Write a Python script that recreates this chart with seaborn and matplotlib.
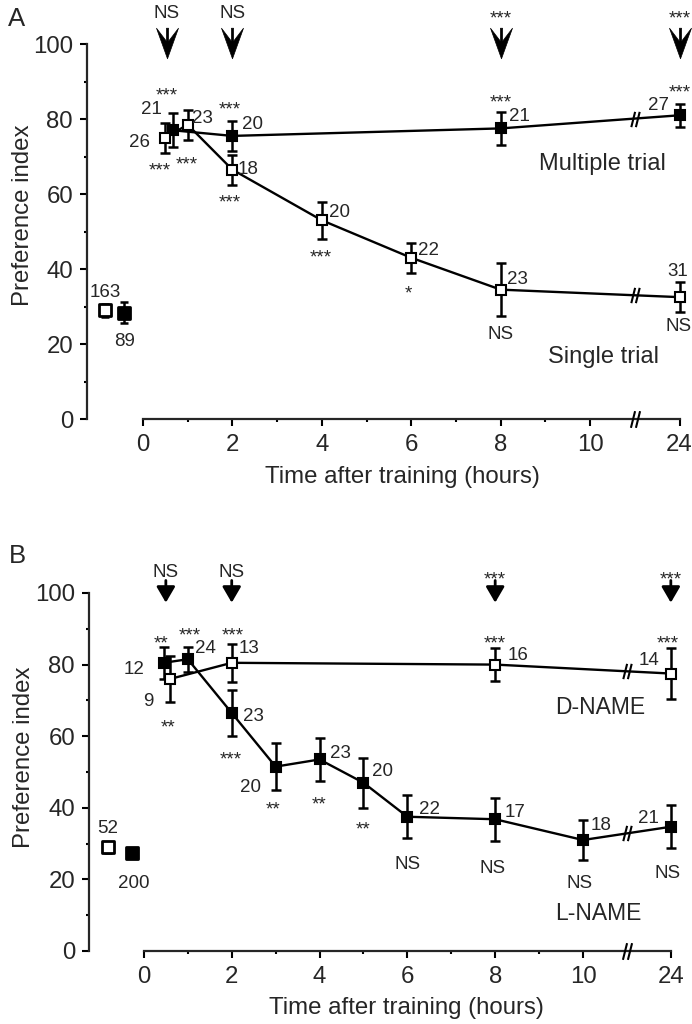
import numpy as np
import pandas as pd
import matplotlib
matplotlib.use("Agg")
import matplotlib.pyplot as plt
from matplotlib.path import Path
import seaborn as sns

# ------------------------------------------------------------------ data
# x positions on the plotted time axis (position 12 is labelled "24 h")
tick_pos = [0, 2, 4, 6, 8, 10, 12]
tick_labels = ["0", "2", "4", "6", "8", "10", "24"]
minor_pos = [1, 3, 5, 7, 9]
break_pos = 11

# Panel A
a_single_x = [0.5, 1, 2, 4, 6, 8, 12]
a_single_y = [75, 78.5, 66.5, 53, 43, 34.5, 32.5]
a_single_err = [4, 4, 4, 5, 4, 7, 4]
a_multi_x = [0.67, 2, 8, 12]
a_multi_y = [77, 75.5, 77.5, 81]
a_multi_err = [4.5, 4, 4.5, 3]
a_base_open = (-0.85, 29, 1.8)
a_base_fill = (-0.42, 28.3, 2.8)
a_arrow_x = [0.53, 2, 8, 12]
a_arrow_txt = ["NS", "NS", "***", "***"]

# Panel B
b_d_x = [0.6, 2, 8, 12]
b_d_y = [76, 80.5, 80, 77.5]
b_d_err = [6.5, 5.3, 4.5, 7]
b_l_x = [0.45, 1, 2, 3, 4, 5, 6, 8, 10, 12]
b_l_y = [80.5, 81.5, 66.5, 51.5, 53.5, 47, 37.5, 36.8, 31, 34.7]
b_l_err = [4.5, 3.5, 6.5, 6.5, 6, 7, 6, 6, 5.7, 6]
b_base_open = (-0.82, 29, 1.5)
b_base_fill = (-0.27, 27.3, 1.2)
b_arrow_x = [0.5, 2, 8, 12]
b_arrow_txt = ["NS", "NS", "***", "***"]

# annotation texts (text, x, y)
a_notes = [("***", 0.53, 87.7), ("21", 0.2, 83), ("26", -0.07, 74), ("***", 0.38, 67.7),
           ("***", 0.98, 69.5), ("23", 1.34, 80.5), ("***", 1.95, 84), ("20", 2.44, 79),
           ("18", 2.35, 67), ("***", 1.95, 59.3), ("20", 4.4, 55.5), ("***", 3.98, 44.5),
           ("22", 6.38, 45.3), ("*", 5.93, 35), ("23", 8.37, 37.6), ("NS", 8.0, 23),
           ("31", 11.95, 39.7), ("NS", 11.97, 25), ("***", 7.99, 86), ("21", 8.43, 81),
           ("***", 12.0, 88.5), ("27", 11.52, 84), ("163", -0.85, 34), ("89", -0.4, 21)]
b_notes = [("**", 0.39, 87.4), ("***", 1.05, 89.6), ("***", 2.02, 89.6), ("24", 1.41, 85),
           ("13", 2.39, 85), ("12", -0.23, 79), ("9", 0.09, 70), ("**", 0.55, 64),
           ("23", 2.5, 66), ("***", 1.98, 55), ("20", 2.43, 46), ("**", 2.95, 41),
           ("23", 4.48, 55.5), ("**", 3.98, 42.5), ("20", 5.43, 50.5), ("**", 5.0, 35.5),
           ("22", 6.5, 40), ("NS", 6.0, 24.5), ("17", 8.45, 39), ("NS", 7.93, 23.5),
           ("18", 10.41, 35.5), ("NS", 9.93, 19.3), ("21", 11.48, 37.5), ("NS", 11.93, 22),
           ("***", 8.0, 87.4), ("16", 8.52, 83), ("***", 11.93, 87.4), ("14", 11.5, 81.5),
           ("52", -0.82, 34.6), ("200", -0.23, 19.3)]

# ------------------------------------------------------------------ style
sns.set_theme(style="ticks")
plt.rcParams['font.family'] = ['Liberation Sans', 'DejaVu Sans']
plt.rcParams['axes.linewidth'] = 1.6

fig = plt.figure(figsize=(6.92, 10.24), dpi=100)
axA = fig.add_axes([87 / 692, 0.5908, 606 / 692, 0.3662])
axB = fig.add_axes([89 / 692, 0.0713, 595 / 692, 0.3496])

BRK = Path([(-0.55, -1), (-0.05, 1), (0.05, -1), (0.55, 1)],
           [Path.MOVETO, Path.LINETO, Path.MOVETO, Path.LINETO])
CHEV = Path([(0, -1), (-0.72, 1), (-0.07, 0.15), (-0.07, 1), (0.07, 1),
             (0.07, 0.15), (0.72, 1), (0, -1)],
            [Path.MOVETO] + [Path.LINETO] * 6 + [Path.CLOSEPOLY])

NFS = 13.5
SFS = 13.5
TFS = 17.3


def series(ax, x, y, err, filled):
    df = pd.DataFrame({"t": x, "pi": y})
    sns.lineplot(data=df, x="t", y="pi", ax=ax, color="black", lw=1.7,
                 marker="s", ms=7.5, mfc="black" if filled else "white",
                 mec="black", mew=1.5, errorbar=None, sort=False, zorder=4,
                 clip_on=False)
    ax.errorbar(x, y, yerr=err, fmt="none", ecolor="black", elinewidth=1.8,
                capsize=3.5, capthick=1.8, zorder=3, clip_on=False)
    yb = np.interp(break_pos, x, y)
    ax.plot([break_pos], [yb], marker=BRK, ms=11, mec="black", mew=1.5,
            ls="none", zorder=5, clip_on=False)


def baseline(ax, pt, filled):
    df = pd.DataFrame({"t": [pt[0]], "pi": [pt[1]]})
    ax.errorbar([pt[0]], [pt[1]], yerr=[pt[2]], fmt="none", ecolor="black",
                elinewidth=1.8, capsize=3, capthick=1.8, zorder=3)
    sns.scatterplot(data=df, x="t", y="pi", ax=ax, marker="s", s=64,
                    color="black" if filled else "white", edgecolor="black",
                    linewidth=2.0, zorder=4)


def notes(ax, items):
    for t, x, y in items:
        star = t.startswith("*")
        fs = SFS if star else NFS
        ax.annotate(t, (x, y), xytext=(0, -0.33 * fs if star else -1),
                    textcoords="offset points", ha="center", va="center",
                    fontsize=fs, annotation_clip=False, zorder=6)


def frame(ax):
    ax.set_xlim(-1.25, 12.3)
    ax.set_ylim(0, 100)
    sns.despine(ax=ax)
    ax.spines["left"].set_bounds(0, 100)
    ax.spines["bottom"].set_bounds(0, 12)
    ax.set_xticks(tick_pos)
    ax.set_xticklabels(tick_labels)
    ax.set_xticks(minor_pos, minor=True)
    ax.set_yticks(np.arange(0, 101, 20))
    ax.set_yticks(np.arange(10, 100, 20), minor=True)
    ax.tick_params(axis="both", which="major", length=5, width=1.5,
                   labelsize=TFS, color="black")
    ax.tick_params(axis="both", which="minor", length=2.5, width=1.5, color="black")
    ax.tick_params(axis="x", which="major", pad=6)
    ax.tick_params(axis="y", which="major", pad=5)
    ax.set_xlabel("Time after training (hours)", fontsize=TFS)
    ax.set_ylabel("Preference index", fontsize=TFS)
    ax.plot([break_pos], [0], marker=BRK, ms=12, mec="black", mew=1.5,
            ls="none", zorder=5, clip_on=False)
    ax.set_facecolor("white")


# ------------------------------------------------------------------ panel A
frame(axA)
series(axA, a_multi_x, a_multi_y, a_multi_err, True)
series(axA, a_single_x, a_single_y, a_single_err, False)
baseline(axA, a_base_open, False)
baseline(axA, a_base_fill, True)
notes(axA, a_notes)
axA.text(10.27, 68, "Multiple trial", fontsize=17, ha="center", va="center")
axA.text(10.3, 16.5, "Single trial", fontsize=17, ha="center", va="center")
for x, t in zip(a_arrow_x, a_arrow_txt):
    axA.plot([x], [100.3], marker=CHEV, ms=22, mfc="black", mec="black",
             mew=0.5, ls="none", clip_on=False, zorder=6)
    star = t.startswith("*")
    axA.annotate(t, (x, 108.4), xytext=(0, -0.33 * SFS if star else -1),
                 textcoords="offset points", ha="center", va="center",
                 fontsize=SFS if star else NFS, annotation_clip=False)
axA.xaxis.set_label_coords(0.521, -0.126)
axA.xaxis.label.set_va("top")
axA.yaxis.set_label_coords(-0.087, 0.544)
fig.text(17 / 692, 1 - 19 / 1024, "A", fontsize=18.5, ha="center", va="center")

# ------------------------------------------------------------------ panel B
frame(axB)
series(axB, b_d_x, b_d_y, b_d_err, False)
series(axB, b_l_x, b_l_y, b_l_err, True)
baseline(axB, b_base_open, False)
baseline(axB, b_base_fill, True)
notes(axB, b_notes)
axB.text(10.39, 68, "D-NAME", fontsize=16.5, ha="center", va="center")
axB.text(10.34, 10.6, "L-NAME", fontsize=16.5, ha="center", va="center")
for x, t in zip(b_arrow_x, b_arrow_txt):
    axB.annotate("", xy=(x, 97.3), xytext=(x, 103.5),
                 arrowprops=dict(arrowstyle="-|>,head_length=0.6,head_width=0.35",
                                 color="black", lw=2, mutation_scale=16,
                                 shrinkA=0, shrinkB=0),
                 annotation_clip=False)
    star = t.startswith("*")
    axB.annotate(t, (x, 106 if not star else 105.5),
                 xytext=(0, -0.33 * SFS if star else -1),
                 textcoords="offset points", ha="center", va="center",
                 fontsize=SFS if star else NFS, annotation_clip=False)
axB.xaxis.set_label_coords(0.533, -0.128)
axB.xaxis.label.set_va("top")
axB.yaxis.set_label_coords(-0.09, 0.54)
fig.text(17 / 692, 1 - 556 / 1024, "B", fontsize=18.5, ha="center", va="center")

fig.savefig("out.png", dpi=100, facecolor="white")
